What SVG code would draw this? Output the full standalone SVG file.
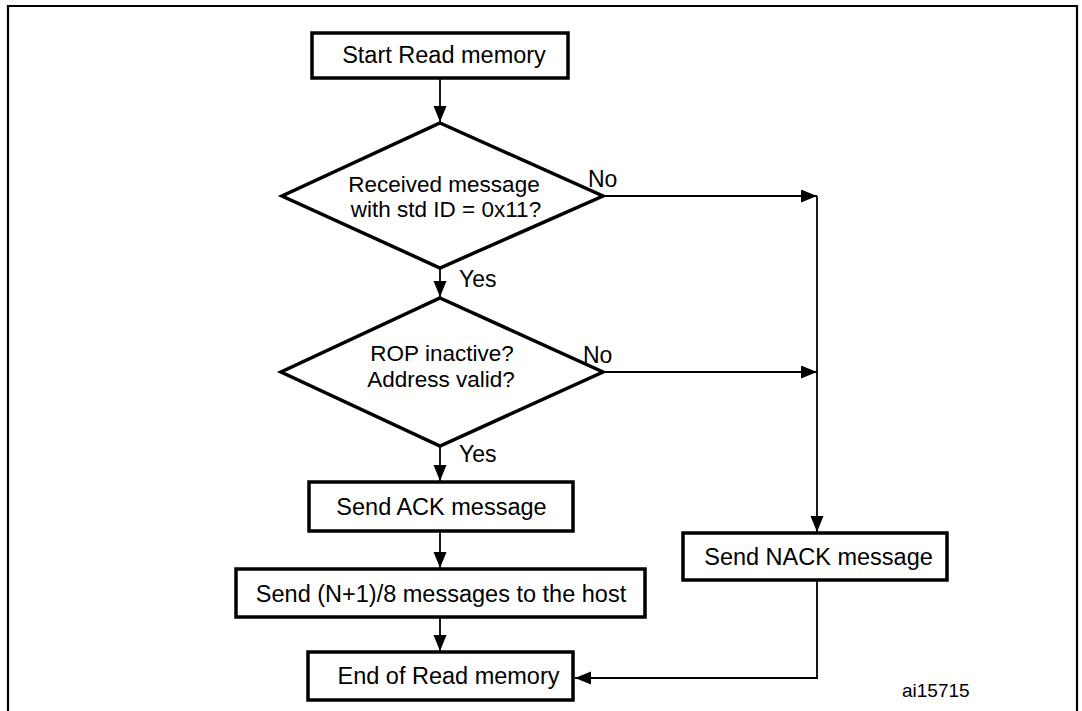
<svg xmlns="http://www.w3.org/2000/svg" width="1082" height="711" viewBox="0 0 1082 711">
<defs>
<style>
.box{fill:#fff;stroke:#000;stroke-width:3.5}
.dia{fill:#fff;stroke:#000;stroke-width:3.5;stroke-linejoin:miter}
.t{font-family:"Liberation Sans",Arial,sans-serif;font-size:23.5px;fill:#000;text-anchor:middle}
.d{font-family:"Liberation Sans",Arial,sans-serif;font-size:22.5px;fill:#000;text-anchor:middle}
.l{font-family:"Liberation Sans",Arial,sans-serif;font-size:23px;fill:#000}
.c{fill:none;stroke:#000;stroke-width:1.8}
</style>
<marker id="ah" markerUnits="userSpaceOnUse" markerWidth="17" markerHeight="14" refX="16" refY="6.5" orient="auto">
<path d="M0,0 L16,6.5 L0,13 z" fill="#000"/>
</marker>
</defs>
<rect width="1082" height="711" fill="#fff"/>
<path d="M8,711 V6 H1077 V711" fill="none" stroke="#000" stroke-width="2.2"/>

<g id="connectors">
<line class="c" x1="440" y1="78" x2="440" y2="122" marker-end="url(#ah)"/>
<line class="c" x1="440" y1="268" x2="440" y2="297" marker-end="url(#ah)"/>
<line class="c" x1="440" y1="446" x2="440" y2="481" marker-end="url(#ah)"/>
<line class="c" x1="440" y1="531" x2="440" y2="568" marker-end="url(#ah)"/>
<line class="c" x1="440" y1="617" x2="440" y2="651" marker-end="url(#ah)"/>
<line class="c" x1="603" y1="196" x2="817" y2="196" marker-end="url(#ah)"/>
<line class="c" x1="603" y1="372" x2="817" y2="372" marker-end="url(#ah)"/>
<line class="c" x1="817" y1="196" x2="817" y2="532" marker-end="url(#ah)"/>
<polyline class="c" points="817,580 817,678 575,678" marker-end="url(#ah)"/>
<text class="l" x="588" y="187">No</text>
<text class="l" x="583" y="363">No</text>
<text class="l" x="459" y="287">Yes</text>
<text class="l" x="459" y="462">Yes</text>
</g>

<g id="start">
<rect class="box" x="312" y="33" width="256" height="45"/>
<text class="t" x="444" y="63">Start Read memory</text>
</g>

<g id="check-id">
<polygon class="dia" points="440,123 603,196 440,268 282,196"/>
<text class="d" x="444" y="192">Received message</text>
<text class="d" x="446" y="217">with std ID = 0x11?</text>
</g>

<g id="check-rop">
<polygon class="dia" points="440,298 603,372 440,446 281,372"/>
<text class="d" x="442" y="361">ROP inactive?</text>
<text class="d" x="441" y="387">Address valid?</text>
</g>

<g id="ack">
<rect class="box" x="309" y="482" width="264" height="49"/>
<text class="t" x="441.5" y="515">Send ACK message</text>
</g>

<g id="send-data">
<rect class="box" x="236" y="569" width="409" height="48"/>
<text class="t" x="441" y="602">Send (N+1)/8 messages to the host</text>
</g>

<g id="end">
<rect class="box" x="308" y="652" width="265" height="48"/>
<text class="t" x="448.5" y="684">End of Read memory</text>
</g>

<g id="nack">
<rect class="box" x="683" y="533" width="264" height="47"/>
<text class="t" x="818.5" y="565">Send NACK message</text>
</g>

<text x="902" y="697" style="font-family:'Liberation Sans',Arial,sans-serif;font-size:19px;fill:#000">ai15715</text>
</svg>
